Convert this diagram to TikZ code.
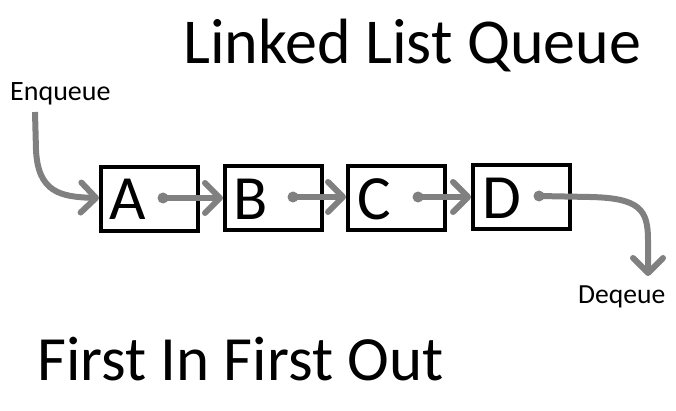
\documentclass[tikz,border=0pt]{standalone}
\usepackage{fontspec}
\setmainfont{Carlito}
\usetikzlibrary{arrows.meta}
\definecolor{arrgray}{HTML}{808080}
\tikzset{
  box/.style={draw=black, line width=4pt, minimum width=97pt, minimum height=64pt, inner sep=0pt},
  letter/.style={anchor=base west, inner sep=0pt, font=\fontsize{63}{66}\selectfont},
  dotn/.style={circle, fill=arrgray, minimum size=11pt, inner sep=0pt},
  arr/.style={draw=arrgray, line width=6pt, -{Straight Barb[length=15pt,width=30pt,round]}},
  lbl/.style={anchor=base west, inner sep=0pt}
}
\begin{document}
\begin{tikzpicture}[x=1pt,y=-1pt]
\useasboundingbox (0,0) rectangle (676,411);
\node[lbl, font=\fontsize{64}{68}\selectfont] (title) at (183,64) {Linked List Queue};
\node[lbl, font=\fontsize{63}{66}\selectfont] (fifo) at (37,380) {First In First Out};
\node[lbl, font=\fontsize{28}{32}\selectfont] (enqt) at (10,101) {Enqueue};
\node[lbl, font=\fontsize{27.6}{32}\selectfont] (deqt) at (578,303) {Deqeue};

\node[box] (a) at (149.5,199.5) {};
\node[box] (b) at (273.5,198.5) {};
\node[box] (c) at (396.5,198.5) {};
\node[box] (d) at (521.5,197.5) {};

\node[letter] (la) at (109,220) {A};
\node[letter] (lb) at (233,220) {B};
\node[letter] (lc) at (357,220) {C};
\node[letter] (ld) at (482,219) {D};

\node[dotn] (da) at (163,198) {};
\node[dotn] (db) at (293,197) {};
\node[dotn] (dc) at (418,197) {};
\node[dotn] (dd) at (539,196) {};

\coordinate (enq) at (35,112);
\coordinate (deqend) at (648,276);

\draw[arr] (enq) -- (36,150) .. controls (38,192) and (60,197) .. (a.west |- da);
\draw[arr] (da.center) -- (da.center -| b.west);
\draw[arr] (db.center) -- (db.center -| c.west);
\draw[arr] (dc.center) -- (dc.center -| d.west);
\draw[arr] (dd.center) -- (590,197) .. controls (640,198) and (648,210) .. (648,240) -- (deqend);
\end{tikzpicture}
\end{document}
